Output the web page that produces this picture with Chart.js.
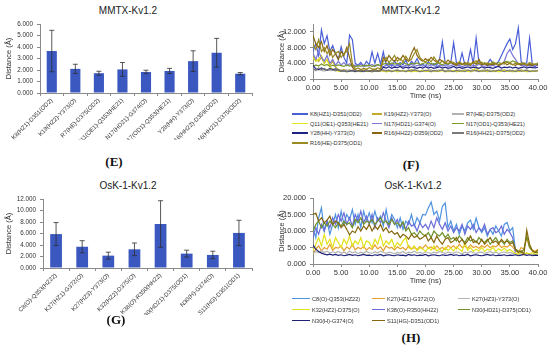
<!DOCTYPE html>
<html>
<head>
<meta charset="utf-8">
<script src="https://cdn.jsdelivr.net/npm/chart.js@4.4.1/dist/chart.umd.min.js"></script>
<style>
  body { margin: 0; background: #fff; }
  #wrap { position: relative; width: 550px; height: 350px; overflow: hidden;
          font-family: "Liberation Sans", Arial, sans-serif; color: #333; }
  canvas { position: absolute; }
  .ttl { position: absolute; font-size: 10px; transform: translate(-50%, -50%); white-space: nowrap; color: #222; }
  .pl { position: absolute; font-family: "Liberation Serif", "Times New Roman", serif; font-weight: bold;
        font-size: 13px; transform: translate(-50%, -50%); color: #111; }
  .lg { position: absolute; font-size: 5.6px; white-space: nowrap; transform: translateY(-50%); color: #333; }
  .ls { position: absolute; height: 1.5px; }
</style>
</head>
<body>
<div id="wrap">
  <div class="ttl" style="left:128px;top:10px">MMTX-Kv1.2</div>
  <div class="ttl" style="left:411px;top:10px">MMTX-Kv1.2</div>
  <div class="ttl" style="left:128px;top:185px">OsK-1-Kv1.2</div>
  <div class="ttl" style="left:413px;top:185px">OsK-1-Kv1.2</div>
  <canvas id="chartE" width="262" height="140" style="left:0;top:0"></canvas>
  <canvas id="chartF" width="275" height="100" style="left:275px;top:0"></canvas>
  <canvas id="chartG" width="262" height="140" style="left:0;top:175px"></canvas>
  <canvas id="chartH" width="275" height="110" style="left:275px;top:175px"></canvas>
  <div class="pl" style="left:114px;top:162px">(E)</div>
  <div class="pl" style="left:411px;top:165px">(F)</div>
  <div class="pl" style="left:116px;top:320px">(G)</div>
  <div class="pl" style="left:411px;top:338px">(H)</div>
</div>
<script>
// ---- bar data (mean distance and standard deviation, Å) ----
const eCategories = ["K8(HZ1)-D351(OD2)", "K19(HZ2)-Y373(O)", "R7(HE)-D375(OD2)", "Q11(OE1)-Q353(HE21)",
  "N17(HD21)-G374(O)", "N17(OD1)-Q353(HE21)", "Y28(HH)-Y373(O)", "R16(HH22)-D359(OD2)", "R16(HH21)-D375(OD2)"];
const eMeans = [3.65, 2.1, 1.72, 2.05, 1.83, 1.92, 2.77, 3.5, 1.68];
const eErrors = [1.8, 0.4, 0.17, 0.6, 0.15, 0.22, 0.9, 1.25, 0.1];

const gCategories = ["C8(O)-Q353(HZ22)", "K27(HZ1)-G372(O)", "K27(HZ3)-Y373(O)", "K32(HZ2)-D375(O)",
  "K38(O)-R350(HH22)", "N30(HD21)-D375(OD1)", "N30(H)-G374(O)", "S11(HG)-D351(OD1)"];
const gMeans = [5.9, 3.7, 2.15, 3.25, 7.65, 2.5, 2.27, 6.1];
const gErrors = [2.0, 1.05, 0.6, 1.1, 4.05, 0.6, 0.65, 2.2];

// ---- time series, one value every 0.5 ns from 0 to 40 ns ----
const sampleStep = 0.5;
const fNames = ["K8(HZ1)-D351(OD2)", "K19(HZ2)-Y373(O)", "R7(HE)-D375(OD2)", "Q11(OE1)-Q353(HE21)",
  "N17(HD21)-G374(O)", "N17(OD1)-Q353(HE21)", "Y28(HH)-Y373(O)", "R16(HH22)-D359(OD2)",
  "R16(HH21)-D375(OD2)", "R16(HE)-D375(OD1)"];

const fK8 = [
  7.0, 9.0, 6.0, 12.5, 9.0, 11.0, 7.0, 8.5, 6.5, 5.0,
  8.2, 5.5, 4.0, 11.2, 10.0, 4.0, 3.5, 4.2, 3.2, 4.5,
  3.6, 6.9, 4.0, 6.5, 3.8, 6.9, 3.5, 4.2, 3.2, 4.6,
  3.5, 4.2, 3.6, 4.8, 3.2, 4.5, 3.8, 5.2, 3.5, 3.8,
  3.2, 4.4, 3.6, 3.9, 3.5, 5.0, 9.5, 4.0, 3.6, 4.2,
  9.2, 4.1, 3.8, 6.6, 3.6, 4.0, 7.5, 3.8, 10.4, 4.2,
  3.6, 4.0, 3.8, 5.0, 4.0, 3.8, 4.5, 6.0, 7.5, 9.0,
  10.2, 7.5, 9.0, 13.0, 4.5, 3.6, 4.2, 10.4, 3.5, 3.0,
  4.2];
const fK19 = [
  6.0, 5.0, 4.5, 5.5, 4.0, 5.0, 3.5, 4.5, 3.0, 2.5,
  2.2, 2.4, 2.0, 2.3, 2.1, 1.9, 2.2, 2.0, 2.3, 2.1,
  1.9, 2.2, 2.0, 2.1, 2.3, 2.0, 1.9, 2.2, 2.0, 2.1,
  2.3, 2.0, 2.2, 1.9, 2.1, 2.4, 2.0, 2.2, 1.9, 2.1,
  2.0, 2.3, 2.1, 1.9, 2.2, 2.0, 2.4, 2.1, 1.9, 2.2,
  2.1, 2.0, 2.3, 1.9, 2.2, 2.0, 2.1, 2.4, 2.0, 2.2,
  1.9, 2.1, 2.3, 2.0, 2.2, 1.9, 2.1, 2.0, 2.3, 2.1,
  2.0, 2.2, 1.9, 2.1, 2.3, 2.0, 2.2, 1.9, 2.1, 2.0,
  2.2];
const fR7 = [
  2.3, 2.1, 2.4, 2.2, 2.0, 2.3, 2.1, 2.2, 2.4, 2.0,
  2.2, 2.1, 2.3, 2.0, 2.2, 2.4, 2.1, 2.3, 2.0, 2.2,
  2.1, 2.3, 2.2, 2.0, 2.4, 2.1, 2.2, 2.3, 2.0, 2.2,
  2.4, 2.1, 2.2, 2.0, 2.3, 2.1, 2.4, 2.2, 2.0, 2.3,
  2.1, 2.2, 2.4, 2.0, 2.2, 2.3, 2.1, 2.0, 2.3, 2.2,
  2.0, 2.3, 2.1, 2.2, 2.4, 2.0, 2.2, 2.1, 2.3, 2.0,
  2.2, 2.4, 2.1, 2.3, 2.0, 2.2, 2.1, 2.4, 2.2, 2.0,
  2.3, 2.1, 2.2, 2.4, 2.0, 2.2, 2.3, 2.1, 2.0, 2.2,
  2.1];
const fQ11 = [
  5.5, 4.5, 5.0, 6.0, 4.0, 5.0, 3.0, 2.5, 2.2, 2.0,
  1.9, 2.1, 1.8, 2.0, 2.2, 1.9, 2.0, 1.8, 2.1, 1.9,
  2.0, 1.8, 2.1, 1.9, 2.0, 2.2, 1.8, 2.0, 1.9, 2.1,
  1.8, 2.0, 2.2, 1.9, 2.0, 1.8, 2.1, 1.9, 2.0, 2.2,
  1.9, 2.0, 1.8, 2.1, 1.9, 2.0, 2.2, 1.8, 2.0, 1.9,
  2.1, 1.8, 2.0, 1.9, 2.2, 2.0, 1.8, 2.1, 3.2, 1.9,
  2.0, 2.2, 1.8, 2.0, 1.9, 2.1, 1.8, 2.0, 2.2, 1.9,
  2.0, 1.8, 2.1, 1.9, 2.0, 2.2, 1.8, 2.0, 1.9, 2.1,
  2.0];
const fN17a = [
  6.5, 5.0, 7.0, 5.5, 4.5, 6.0, 4.0, 5.0, 3.5, 4.5,
  3.6, 4.2, 3.4, 3.9, 3.2, 3.6, 3.3, 3.8, 3.1, 3.5,
  3.3, 3.7, 3.2, 3.6, 3.4, 3.1, 3.5, 3.3, 3.7, 3.2,
  3.6, 3.4, 3.1, 3.5, 3.3, 3.8, 3.2, 3.4, 3.6, 3.3,
  3.5, 3.2, 3.7, 3.4, 3.1, 3.5, 3.3, 3.6, 3.2, 3.4,
  3.7, 3.3, 3.5, 3.1, 3.4, 3.6, 3.2, 3.5, 3.3, 3.8,
  3.4, 3.2, 3.6, 3.3, 3.5, 3.1, 3.4, 3.7, 4.5, 6.5,
  7.5, 6.0, 5.0, 3.8, 3.4, 3.6, 3.2, 3.5, 3.3, 3.6,
  3.4];
const fN17b = [
  3.2, 3.6, 3.3, 3.8, 3.4, 3.7, 3.2, 3.5, 3.3, 3.6,
  3.4, 3.2, 3.6, 3.3, 3.5, 3.1, 3.4, 3.2, 3.5, 3.3,
  3.6, 3.2, 3.4, 3.7, 3.3, 3.8, 4.0, 3.7, 4.1, 3.8,
  4.0, 3.7, 4.2, 3.9, 3.6, 4.0, 3.8, 4.1, 3.7, 3.9,
  4.2, 3.8, 4.0, 3.7, 4.1, 3.9, 3.6, 4.0, 3.8, 4.2,
  3.9, 3.7, 4.1, 3.8, 4.0, 3.6, 3.9, 4.2, 3.8, 4.0,
  3.7, 4.1, 3.9, 3.6, 4.0, 3.8, 4.2, 3.9, 4.3, 4.5,
  4.2, 4.6, 4.3, 4.0, 3.8, 4.1, 3.7, 3.9, 3.6, 3.8,
  3.7];
const fY28 = [
  3.5, 2.6, 2.4, 2.8, 2.5, 2.2, 2.7, 2.4, 2.6, 2.3,
  2.0, 2.1, 1.9, 2.0, 2.2, 1.9, 2.1, 2.0, 1.9, 2.1,
  2.0, 1.9, 2.1, 2.0, 2.1, 3.0, 2.8, 3.1, 2.7, 3.0,
  2.9, 3.2, 2.7, 3.0, 2.8, 3.1, 2.9, 2.7, 3.0, 2.8,
  3.1, 2.8, 3.0, 2.7, 2.9, 3.1, 2.8, 3.0, 2.7, 2.9,
  3.2, 2.8, 3.0, 2.7, 2.9, 3.1, 2.8, 3.0, 2.9, 2.7,
  3.1, 2.8, 3.0, 2.9, 2.7, 3.0, 3.2, 2.8, 3.0, 2.9,
  3.1, 2.8, 3.0, 2.7, 2.9, 3.1, 2.8, 3.0, 2.9, 2.8,
  3.0];
const fR16b = [
  11.0, 9.0, 8.0, 9.5, 7.0, 8.5, 6.0, 7.5, 6.5, 5.0,
  7.0, 6.0, 8.0, 5.5, 3.0, 2.2, 2.0, 2.3, 2.1, 2.4,
  2.0, 2.2, 2.5, 2.1, 2.3, 5.5, 4.5, 6.0, 5.0, 4.5,
  5.5, 4.8, 6.0, 5.0, 4.5, 6.5, 8.0, 6.0, 5.0, 4.5,
  5.2, 4.6, 5.5, 4.8, 4.3, 5.0, 4.5, 4.0, 4.8, 4.2,
  3.8, 3.5, 4.0, 3.6, 4.2, 3.8, 3.5, 4.5, 3.8, 5.0,
  3.6, 4.0, 3.5, 3.8, 3.6, 4.0, 3.5, 3.8, 4.2, 3.6,
  4.0, 3.7, 3.5, 3.9, 3.6, 4.0, 3.5, 3.7, 3.4, 3.8,
  3.6];
const fR16a = [
  2.6, 2.3, 2.8, 2.4, 2.7, 2.2, 2.5, 2.3, 2.1, 2.4,
  2.0, 2.2, 1.9, 2.1, 2.0, 2.2, 1.9, 2.1, 2.0, 2.2,
  2.1, 1.9, 2.2, 2.0, 2.1, 2.3, 2.0, 2.2, 1.9, 2.1,
  2.2, 2.0, 2.1, 1.9, 2.2, 2.0, 2.3, 2.1, 1.9, 2.0,
  2.2, 2.1, 1.9, 2.2, 2.0, 2.1, 2.3, 1.9, 2.1, 2.0,
  1.9, 2.2, 2.0, 2.1, 1.9, 2.3, 2.0, 2.1, 2.2, 1.9,
  2.1, 2.0, 2.2, 1.9, 2.1, 2.0, 2.3, 2.1, 1.9, 2.2,
  2.0, 2.1, 1.9, 2.2, 2.0, 2.1, 2.2, 1.9, 2.1, 2.0,
  2.1];
const fR16c = [
  9.0, 7.5, 10.0, 7.0, 8.0, 6.5, 7.5, 5.5, 6.5, 7.0,
  5.5, 6.5, 7.0, 9.0, 4.0, 2.5, 2.8, 2.4, 2.7, 2.5,
  2.9, 2.6, 2.4, 2.8, 2.6, 4.5, 5.5, 4.2, 5.0, 6.0,
  4.5, 5.2, 4.4, 5.8, 4.6, 5.0, 6.5, 7.5, 5.5, 4.8,
  4.3, 5.0, 4.4, 5.6, 4.5, 4.0, 4.6, 4.3, 3.9, 4.5,
  4.2, 3.8, 4.4, 3.9, 3.6, 4.2, 3.8, 4.0, 4.6, 3.9,
  4.3, 3.7, 4.1, 3.8, 4.4, 3.9, 3.6, 4.0, 3.8, 4.3,
  3.9, 3.6, 4.0, 3.7, 4.1, 3.8, 3.6, 4.2, 3.9, 3.7,
  4.0];
const fSeries = [fK8, fK19, fR7, fQ11, fN17a, fN17b, fY28, fR16b, fR16a, fR16c];

const hNames = ["C8(O)-Q353(HZ22)", "K27(HZ1)-G372(O)", "K27(HZ3)-Y373(O)", "K32(HZ2)-D375(O)",
  "K38(O)-R350(HH22)", "N30(HD21)-D375(OD1)", "N30(H)-G374(O)", "S11(HG)-D351(OD1)"];

const hC8 = [
  11, 8, 14, 17, 10, 13, 9, 12, 15, 11,
  16, 12, 15, 13.5, 16.5, 12, 15, 11, 16, 13,
  15.5, 12.5, 16, 13, 14.5, 11.5, 16.5, 12, 15, 13.5,
  11, 14, 10.5, 13, 12, 15, 11.5, 14, 12.5, 15,
  14.8, 17, 18.8, 15, 16, 13, 17.5, 18.5, 11, 13,
  10, 12, 9, 11.5, 10, 12.5, 13.3, 10.5, 13.9, 11,
  9.5, 11, 8.5, 10.5, 9, 11.5, 10, 8.5, 12, 12.6,
  10, 11, 4, null, null, null, null, null, null, null,
  null];
const hK27a = [
  3.0, 4.5, 5.5, 4.0, 5.0, 4.5, 6.0, 4.2, 5.0, 4.8,
  5.5, 4.0, 5.2, 4.5, 6.0, 4.3, 5.0, 4.6, 5.4, 4.2,
  5.0, 4.4, 5.8, 4.6, 5.2, 4.0, 5.5, 4.8, 5.0, 4.3,
  5.2, 4.6, 5.0, 4.2, 5.6, 4.5, 5.0, 4.4, 5.3, 4.7,
  5.8, 4.8, 5.2, 4.5, 5.5, 4.6, 5.0, 4.3, 5.6, 4.9,
  5.5, 4.6, 6.0, 5.0, 5.4, 4.7, 5.8, 5.0, 5.3, 4.8,
  5.6, 5.0, 5.8, 4.9, 5.5, 5.2, 6.0, 5.0, 5.4, 5.1,
  5.8, 5.2, 4.0, 3.5, 5.0, 4.5, 7.9, 5.0, 4.2, 3.8,
  4.5];
const hK27b = [
  3.2, 3.8, 3.4, 4.0, 3.5, 3.9, 3.3, 3.7, 3.4, 3.8,
  3.3, 3.6, 3.2, 3.9, 3.4, 3.7, 3.1, 3.6, 3.3, 3.8,
  3.4, 3.2, 3.7, 3.3, 3.9, 3.5, 3.2, 3.6, 3.4, 3.1,
  3.5, 3.3, 3.8, 3.2, 3.6, 3.4, 3.9, 3.3, 3.5, 3.2,
  3.7, 3.4, 3.2, 3.6, 3.3, 3.8, 3.5, 3.2, 3.6, 3.4,
  3.3, 3.7, 3.4, 3.1, 3.6, 3.3, 3.8, 3.4, 3.2, 3.5,
  3.6, 3.2, 3.5, 3.8, 3.3, 3.6, 3.2, 3.4, 3.7, 3.3,
  3.5, 3.2, 3.0, 2.8, 3.1, 2.9, 3.2, 2.8, 3.0, 2.9,
  3.0];
const hK32 = [
  4.0, 6.0, 8.0, 5.5, 9.0, 6.0, 7.5, 5.0, 8.0, 6.5,
  5.0, 7.5, 6.0, 8.5, 5.5, 7.0, 6.0, 8.0, 5.0, 7.0,
  6.5, 5.0, 7.5, 6.0, 8.8, 5.5, 7.0, 6.0, 7.5, 5.0,
  6.5, 5.5, 7.0, 8.0, 5.0, 4.5, 5.5, 4.0, 5.0, 4.5,
  3.8, 5.0, 4.2, 5.5, 4.0, 4.5, 3.8, 5.0, 4.2, 4.8,
  4.0, 5.2, 4.5, 3.8, 6.5, 4.2, 5.0, 3.8, 4.5, 4.0,
  5.0, 3.8, 4.5, 4.2, 5.0, 3.8, 4.6, 4.0, 4.8, 3.9,
  4.4, 3.8, 3.2, 3.0, 3.6, 2.8, 3.4, 3.0, 3.5, 2.9,
  3.2];
const hK38 = [
  8, 11, 9, 12, 10, 13, 11, 14, 12, 15,
  13, 15.5, 12, 14, 11.5, 15, 13, 16, 12.5, 14.5,
  12, 15, 11, 14, 12.5, 15.5, 13, 11, 14, 12,
  13.5, 11, 12.5, 10.5, 13, 11.5, 12, 10, 12.5, 11,
  12, 10.5, 13, 11, 14, 12, 10.5, 12.5, 10, 11.5,
  9.5, 11, 10, 12, 9, 11.5, 10.5, 12, 9.5, 11,
  10, 12, 9, 10.5, 11, 9.5, 10, 11.5, 9, 10.5,
  9.5, 8, 3.5, null, null, null, null, null, null, null,
  null];
const hN30b = [
  10, 12, 13, 11, 12.5, 11.5, 13, 12, 11, 12.5,
  11.5, 13, 12, 12.5, 11, 13.5, 12.5, 14, 12, 13,
  12.5, 13.5, 12, 13, 14, 12.5, 13, 12, 13.5, 12,
  12.5, 11.5, 12.8, 10, 11, 9, 9.5, 8.5, 10, 9,
  8.5, 9.5, 8, 10, 9, 8.5, 9.5, 8, 9, 7.5,
  8, 7, 8.5, 7.5, 6.5, 8, 7, 7.5, 6.5, 8,
  7, 6.5, 7.5, 6, 7, 8, 6.5, 7, 6, 7.5,
  6.5, 7, 4.5, 4, 3.5, 4.5, 8.5, 5, 4, 3.5,
  3.5];
const hN30a = [
  5.7, 4.5, 3.8, 3.3, 3.0, 2.8, 3.0, 2.7, 2.9, 2.6,
  2.8, 2.5, 2.7, 2.9, 2.6, 2.8, 2.5, 2.7, 2.9, 2.6,
  2.7, 2.5, 2.8, 2.6, 2.9, 2.5, 2.7, 2.8, 2.6, 2.5,
  2.8, 2.6, 2.7, 2.5, 2.9, 2.6, 2.8, 2.5, 2.7, 2.6,
  2.9, 2.5, 2.7, 2.8, 2.6, 2.5, 2.8, 2.6, 2.7, 2.9,
  2.6, 2.8, 2.5, 2.7, 2.6, 2.9, 2.5, 2.7, 2.8, 2.6,
  2.5, 2.7, 2.9, 2.6, 2.8, 2.5, 2.7, 2.6, 2.8, 2.5,
  2.7, 2.6, 2.8, 2.5, 2.7, 2.9, 2.6, 2.8, 2.5, 2.7,
  2.6];
const hS11 = [
  15, 15.4, 13, 14, 12.5, 13.3, 14.5, 12, 13, 12.5,
  11, 12, 10.5, 8.8, 10, 9.5, 11.3, 10, 11.5, 10.5,
  12, 10, 11.5, 10.5, 12, 10, 11, 9.5, 10, 9,
  9.5, 8, 9, 8.5, 7.5, 9, 8, 8.5, 7.5, 8,
  8.8, 7, 8, 6.5, 8.5, 7, 6, 7.5, 8, 6.5,
  7, 8, 6.5, 7.5, 6, 7, 8.5, 6.5, 7, 6,
  7.5, 6, 7, 8, 6.5, 7, 6, 7.5, 6.5, 7,
  6, 6.5, 4.5, 3.5, 4, 3, 10.3, 6, 4, 3.5,
  4.2];
const hSeries = [hC8, hK27a, hK27b, hK32, hK38, hN30b, hN30a, hS11];

// ---- styles ----
const fColors = ["#4a5fd6", "#c4a92c", "#b3b3b3", "#e4e41a", "#7a76da", "#7a9a2c", "#1f2280", "#8a6612", "#7a7a7a", "#9a8a22"];
const hColors = ["#4e92df", "#e8a030", "#b3b3b3", "#e2e21a", "#6a6cd8", "#6e9228", "#202276", "#86680f"];
const fontFam = '"Liberation Sans", Arial, sans-serif';
const axisColor = "#8a8a8a";
const tickColor = "#333";

const errorBars = {
  id: "errorBars",
  afterDatasetsDraw(chart, args, opts) {
    const errs = opts.errors;
    const meta = chart.getDatasetMeta(0);
    const ys = chart.scales.y;
    const vals = chart.data.datasets[0].data;
    const ctx = chart.ctx;
    ctx.save();
    ctx.strokeStyle = "#2e2e2e";
    ctx.lineWidth = 0.8;
    meta.data.forEach((bar, i) => {
      const top = ys.getPixelForValue(vals[i] + errs[i]);
      const bot = ys.getPixelForValue(vals[i] - errs[i]);
      ctx.beginPath();
      ctx.moveTo(bar.x, top); ctx.lineTo(bar.x, bot);
      ctx.moveTo(bar.x - 2.5, top); ctx.lineTo(bar.x + 2.5, top);
      ctx.moveTo(bar.x - 2.5, bot); ctx.lineTo(bar.x + 2.5, bot);
      ctx.stroke();
    });
    ctx.restore();
  }
};

function barChart(id, cats, means, errs, yMax, yStep, yWidth, padTop, xHeight, barPct) {
  return new Chart(document.getElementById(id), {
    type: "bar",
    data: {
      labels: cats,
      datasets: [{ data: means, backgroundColor: "#3a58c0", barPercentage: barPct, categoryPercentage: 1 }]
    },
    plugins: [errorBars],
    options: {
      responsive: false,
      animation: false,
      layout: { padding: { top: padTop, right: 10, left: 0, bottom: 0 } },
      plugins: { legend: { display: false }, tooltip: { enabled: false }, errorBars: { errors: errs } },
      scales: {
        x: {
          grid: { offset: true, drawOnChartArea: false, tickLength: 3, color: axisColor },
          border: { color: axisColor },
          ticks: { font: { family: fontFam, size: 6 }, color: tickColor, minRotation: 45, maxRotation: 45, autoSkip: false, padding: 1 },
          afterFit: s => { s.height = xHeight; }
        },
        y: {
          min: 0, max: yMax,
          grid: { drawOnChartArea: false, tickLength: 3, color: axisColor },
          border: { color: axisColor },
          ticks: { stepSize: yStep, font: { family: fontFam, size: 6.3 }, color: tickColor, padding: 4, callback: v => v.toFixed(3) },
          title: { display: true, text: "Distance (Å)", font: { family: fontFam, size: 7.5 }, color: tickColor, padding: { top: 4, bottom: 0 } },
          afterFit: s => { s.width = yWidth; }
        }
      }
    }
  });
}

function timeChart(id, names, series, colors, yMax, yStep, padTop) {
  const datasets = series.map((vals, i) => ({
    label: names[i],
    data: vals.map((v, k) => ({ x: k * sampleStep, y: v })),
    borderColor: colors[i],
    borderWidth: 1.2,
    pointRadius: 0,
    order: series.length - i
  }));
  return new Chart(document.getElementById(id), {
    type: "line",
    data: { datasets },
    options: {
      responsive: false,
      animation: false,
      layout: { padding: { top: padTop, right: 12, left: 0, bottom: 0 } },
      plugins: { legend: { display: false }, tooltip: { enabled: false } },
      scales: {
        x: {
          type: "linear", min: 0, max: 40,
          grid: { drawOnChartArea: false, tickLength: 3, color: axisColor },
          border: { color: axisColor },
          ticks: { stepSize: 5, autoSkip: false, maxRotation: 0, font: { family: fontFam, size: 7.5 }, color: tickColor, padding: 1, callback: v => v.toFixed(2) },
          title: { display: true, text: "Time (ns)", font: { family: fontFam, size: 7.5 }, color: tickColor, padding: 0 },
          afterFit: s => { s.height = 21; }
        },
        y: {
          min: 0, max: yMax,
          grid: { drawOnChartArea: false, tickLength: 3, color: axisColor },
          border: { color: axisColor },
          ticks: { stepSize: yStep, font: { family: fontFam, size: 7.5 }, color: tickColor, padding: 4, callback: v => v.toFixed(3) },
          title: { display: true, text: "Distance (Å)", font: { family: fontFam, size: 7.5 }, color: tickColor, padding: { top: 2, bottom: 0 } },
          afterFit: s => { s.width = 38; }
        }
      }
    }
  });
}

function htmlLegend(chart, colsX, lineStarts, rowsY) {
  const wrap = document.getElementById("wrap");
  chart.data.datasets.forEach((ds, i) => {
    const c = i % 3, r = Math.floor(i / 3);
    const line = document.createElement("div");
    line.className = "ls";
    line.style.left = lineStarts[c] + "px";
    line.style.width = (colsX[c] - 2 - lineStarts[c]) + "px";
    line.style.top = (rowsY[r] - 0.75) + "px";
    line.style.background = ds.borderColor;
    const txt = document.createElement("div");
    txt.className = "lg";
    txt.style.left = colsX[c] + "px";
    txt.style.top = rowsY[r] + "px";
    txt.textContent = ds.label;
    wrap.appendChild(line);
    wrap.appendChild(txt);
  });
}

barChart("chartE", eCategories, eMeans, eErrors, 6, 1, 40, 24, 47, 0.43);
barChart("chartG", gCategories, gMeans, gErrors, 12, 2, 43, 24, 47, 0.45);
const chartF = timeChart("chartF", fNames, fSeries, fColors, 14, 2, 24);
const chartH = timeChart("chartH", hNames, hSeries, hColors, 20, 5, 23);
htmlLegend(chartF, [310, 384, 466], [292, 372, 452], [114, 123.5, 133, 143]);
htmlLegend(chartH, [312, 387, 472], [292, 372, 458], [298.5, 309.5, 320.5]);
</script>
</body>
</html>
